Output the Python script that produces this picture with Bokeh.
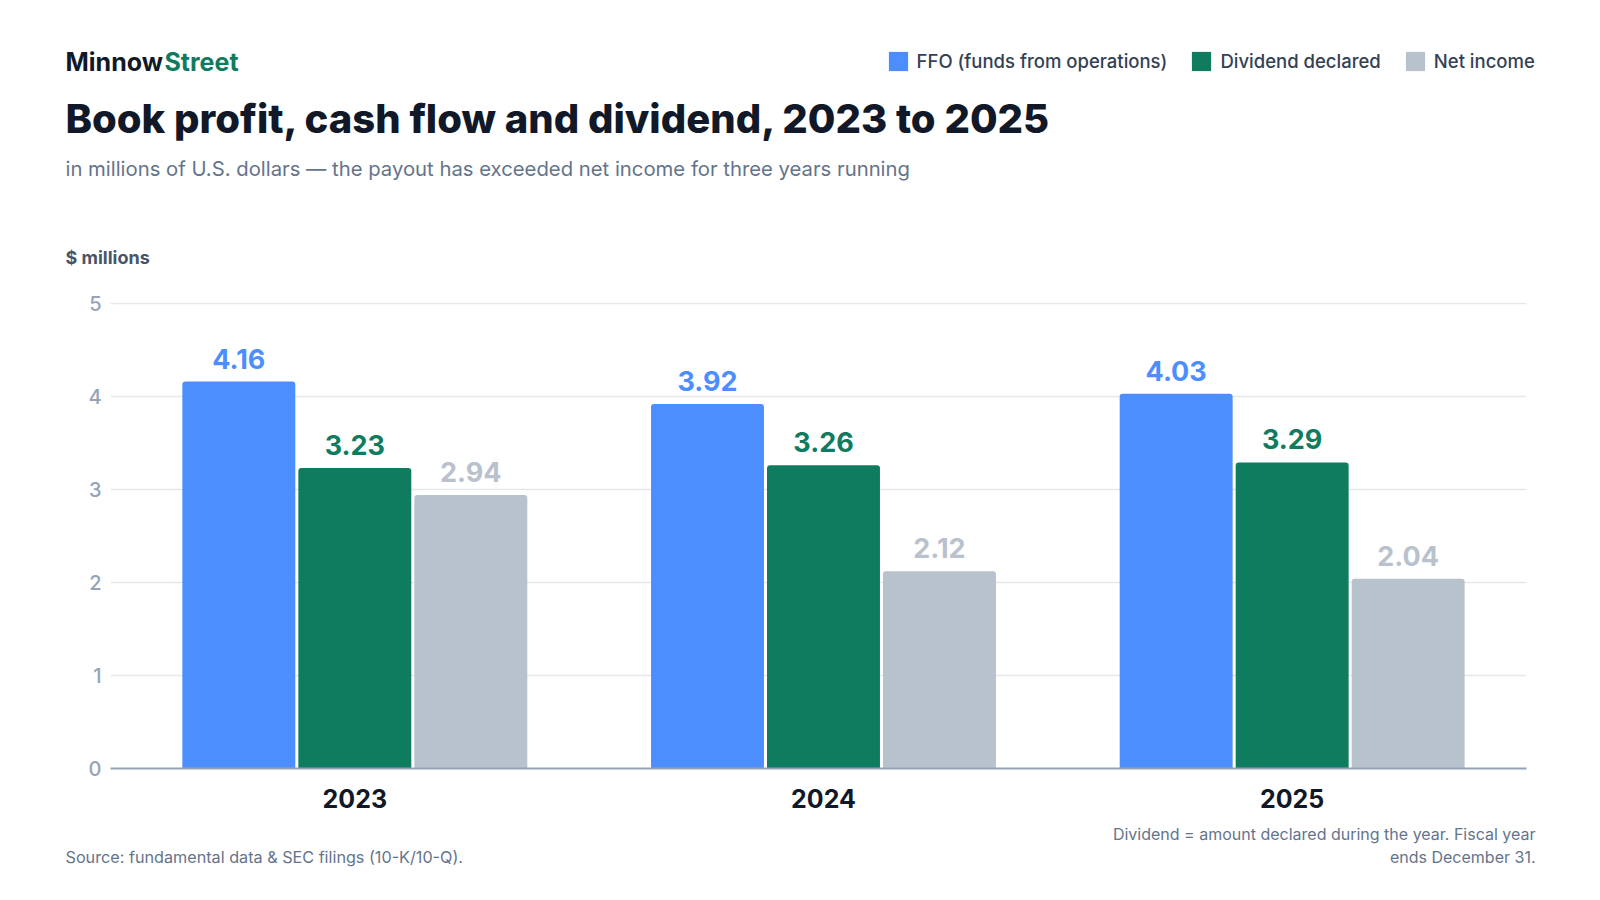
import numpy as np
from bokeh.plotting import figure
from bokeh.layouts import column
from bokeh.models import (Range1d, FixedTicker, LabelSet, ColumnDataSource,
                          Legend, LegendItem)
from bokeh.core.properties import value
from bokeh.embed import file_html
from bokeh.resources import INLINE

# ---- data ----
years = ["2023", "2024", "2025"]
ffo = [4.16, 3.92, 4.03]
dividend = [3.23, 3.26, 3.29]
net_income = [2.94, 2.12, 2.04]
series_names = ["FFO (funds from operations)", "Dividend declared", "Net income"]
y_ticks = [0, 1, 2, 3, 4, 5]

FONT = "Inter"
FONT_MED = "'Inter Medium', Inter"
FONT_XB = "'Inter ExtraBold', Inter"
C_FFO = "#4d8eff"
C_DIV = "#0f7b5f"
C_NET = "#b8c2cc"
C_NET_TXT = "#b8c1cc"
DARK = "#111827"
MUTED = "#64748b"

W = 1600
H_HEAD, H_MAIN, H_FOOT = 275, 545, 80   # page rows: 0-275, 275-820, 820-900


def blank(height, y0):
    f = figure(width=W, height=height, output_backend="svg", toolbar_location=None,
               x_range=Range1d(0, W), y_range=Range1d(y0 + height, y0),
               x_axis_location=None, y_axis_location=None,
               min_border=0, min_border_left=0, min_border_right=0,
               min_border_top=0, min_border_bottom=0)
    f.title.visible = False
    f.frame_align = False
    f.outline_line_color = None
    f.grid.visible = False
    f.background_fill_color = "white"
    f.border_fill_color = "white"
    return f


def txt(f, text, x, y, size, color, bold=False, align="left", font=FONT):
    f.text(x=[x], y=[y], text=[text], text_font=value(font), text_font_size=size,
           text_font_style="bold" if bold else "normal", text_color=color,
           text_align=align, text_baseline="alphabetic")


# ---------------- header ----------------
hf = blank(H_HEAD, 0)
txt(hf, "Minnow", 65, 61, "25px", DARK, bold=True)
txt(hf, "Street", 164, 61, "25px", C_DIV, bold=True)
txt(hf, "Book profit, cash flow and dividend, 2023 to 2025", 65, 118, "40px", DARK,
    bold=True, font=FONT_XB)
txt(hf, "in millions of U.S. dollars \u2014 the payout has exceeded net income for three years running",
    65, 168, "20.3px", MUTED)
txt(hf, "$ millions", 65, 257, "18px", "#475569", bold=True)

# legend swatches: zero-height bars used only as legend glyphs
dummy = []
for c in [C_FFO, C_DIV, C_NET]:
    dummy.append(hf.vbar(x=[0], top=[0], bottom=[0], width=0, fill_color=c, line_color=None))
legend = Legend(items=[LegendItem(label=n, renderers=[r]) for n, r in zip(series_names, dummy)],
                orientation="horizontal", location=(885.6, H_HEAD - 73.4),
                glyph_width=24, glyph_height=24, label_height=24, label_standoff=7,
                spacing=22, padding=0, margin=0, border_line_color=None,
                background_fill_alpha=0,
                label_text_font=FONT_MED, label_text_font_size="18.5px",
                label_text_color="#334155")
hf.add_layout(legend)

# ---------------- main chart ----------------
FL, FR, FT, FB = 110, 1526, 302, 768  # page px of frame edges
p = figure(width=W, height=H_MAIN, output_backend="svg", toolbar_location=None,
           x_range=Range1d(-0.0213, 3.0), y_range=Range1d(0, 5.01),
           min_border_left=FL, min_border_right=W - FR,
           min_border_top=FT - H_HEAD, min_border_bottom=H_HEAD + H_MAIN - FB)
p.frame_align = False
p.outline_line_color = None
p.background_fill_color = "white"
p.border_fill_color = "white"

centers = np.arange(len(years)) + 0.5
bw = 0.241
off = 0.2475
xs = [centers - off, centers, centers + off]
vals = [ffo, dividend, net_income]
cols = [C_FFO, C_DIV, C_NET]
txt_cols = [C_FFO, C_DIV, C_NET_TXT]

for x, v, c, tc in zip(xs, vals, cols, txt_cols):
    src = ColumnDataSource(dict(x=list(x), top=v, txt=[f"{t:.2f}" for t in v]))
    p.vbar(x="x", top="top", bottom=0, width=bw, source=src, fill_color=c,
           line_color=None, border_radius=(3, 3, 0, 0))
    p.add_layout(LabelSet(x="x", y="top", text="txt", source=src, y_offset=13,
                          text_align="center", text_baseline="alphabetic",
                          text_font=value(FONT), text_font_style="bold",
                          text_font_size="27px", text_color=tc))

p.xaxis.ticker = FixedTicker(ticks=list(centers))
p.xaxis.major_label_overrides = {float(c): y for c, y in zip(centers, years)}
p.xaxis.major_tick_line_color = None
p.xaxis.minor_tick_line_color = None
p.xaxis.axis_line_color = "#94a3b8"
p.xaxis.axis_line_width = 2
p.xaxis.major_label_text_font = FONT
p.xaxis.major_label_text_font_style = "bold"
p.xaxis.major_label_text_font_size = "25px"
p.xaxis.major_label_text_color = DARK
p.xaxis.major_label_standoff = 14

p.yaxis.ticker = FixedTicker(ticks=y_ticks)
p.yaxis.axis_line_color = None
p.yaxis.major_tick_line_color = None
p.yaxis.minor_tick_line_color = None
p.yaxis.major_label_text_font = FONT_MED
p.yaxis.major_label_text_font_size = "20px"
p.yaxis.major_label_text_color = "#94a3b8"
p.yaxis.major_label_standoff = 3

p.xgrid.grid_line_color = None
p.ygrid.ticker = FixedTicker(ticks=y_ticks[1:])
p.ygrid.grid_line_color = "#e5e7eb"
p.ygrid.grid_line_width = 1.5

# ---------------- footer ----------------
ff = blank(H_FOOT, H_HEAD + H_MAIN)
txt(ff, "Source: fundamental data & SEC filings (10-K/10-Q).", 65, 856, "16.2px", MUTED)
txt(ff, "Dividend = amount declared during the year. Fiscal year", 1535, 833, "16px", MUTED, align="right")
txt(ff, "ends December 31.", 1535, 856, "16px", MUTED, align="right")

layout = column(hf, p, ff, spacing=0)
open("out.html", "w").write(file_html(layout, INLINE))
